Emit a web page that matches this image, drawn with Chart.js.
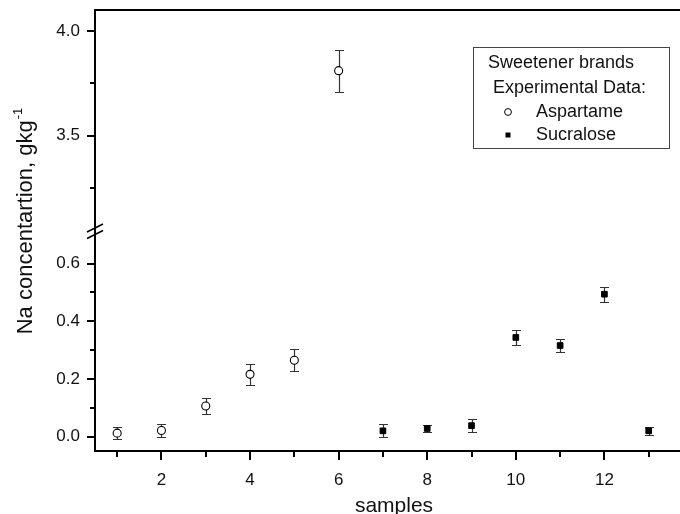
<!DOCTYPE html>
<html>
<head>
<meta charset="utf-8">
<script src="https://cdn.jsdelivr.net/npm/chart.js@4.4.1/dist/chart.umd.min.js"></script>
<style>
  html, body { margin: 0; padding: 0; background: #fff; overflow: hidden; }
  #wrap { width: 700px; height: 514px; }
</style>
</head>
<body>
<div id="wrap"><canvas id="naChart"></canvas></div>
<script>
// samples 1-6 aspartame, 7-13 sucralose
const aspartameSamples = [1, 2, 3, 4, 5, 6];
const aspartame = [0.012, 0.021, 0.106, 0.216, 0.265, 3.81];
const aspartameErr = [0.020, 0.022, 0.028, 0.036, 0.038, 0.10];

const sucraloseSamples = [7, 8, 9, 10, 11, 12, 13];
const sucralose = [0.020, 0.028, 0.038, 0.344, 0.316, 0.494, 0.020];
const sucraloseErr = [0.022, 0.012, 0.023, 0.026, 0.024, 0.026, 0.015];

const breakValue = 1.5; // values above this go on the upper axis part
const xTicks = [2, 4, 6, 8, 10, 12];
const xMinor = [1, 3, 5, 7, 9, 11, 13];
const lowTicks = [0.0, 0.2, 0.4, 0.6];
const lowMinor = [0.1, 0.3, 0.5];
const highTicks = [3.5, 4.0];
const highMinor = [3.25, 3.75];

const FONT = "'Liberation Sans', Arial, Helvetica, sans-serif";
Chart.defaults.font.family = FONT;
Chart.defaults.color = '#111';

function points(xs, ys, errs, upper) {
  const out = [];
  xs.forEach((x, i) => {
    if ((ys[i] > breakValue) === upper) out.push({ x, y: ys[i], err: errs[i] });
  });
  return out;
}

const circleStyle = { pointStyle: 'circle', pointRadius: 4, pointBackgroundColor: '#fff', pointBorderColor: '#000', pointBorderWidth: 1.1 };
const squareStyle = { pointStyle: 'rect', pointRadius: 4, pointBackgroundColor: '#000', pointBorderColor: '#000', pointBorderWidth: 1 };

const datasets = [
  { label: 'Aspartame', yAxisID: 'y', data: points(aspartameSamples, aspartame, aspartameErr, false), ...circleStyle },
  { label: 'Aspartame', yAxisID: 'y2', data: points(aspartameSamples, aspartame, aspartameErr, true), ...circleStyle },
  { label: 'Sucralose', yAxisID: 'y', data: points(sucraloseSamples, sucralose, sucraloseErr, false), ...squareStyle },
  { label: 'Sucralose', yAxisID: 'y2', data: points(sucraloseSamples, sucralose, sucraloseErr, true), ...squareStyle }
];

const errorBars = {
  id: 'errorBars',
  beforeDatasetsDraw(chart) {
    const ctx = chart.ctx;
    ctx.save();
    ctx.strokeStyle = '#333';
    ctx.lineWidth = 1.2;
    chart.data.datasets.forEach((ds, i) => {
      const meta = chart.getDatasetMeta(i);
      const ys = chart.scales[ds.yAxisID];
      meta.data.forEach((pt, j) => {
        const d = ds.data[j];
        const x = Math.round(pt.x) + 0.5;
        const top = Math.round(ys.getPixelForValue(d.y + d.err)) + 0.5;
        const bot = Math.round(ys.getPixelForValue(d.y - d.err)) + 0.5;
        ctx.beginPath();
        ctx.moveTo(x, top); ctx.lineTo(x, bot);
        ctx.moveTo(x - 4.5, top); ctx.lineTo(x + 4.5, top);
        ctx.moveTo(x - 4.5, bot); ctx.lineTo(x + 4.5, bot);
        ctx.stroke();
      });
    });
    ctx.restore();
  }
};

const decorations = {
  id: 'decorations',
  afterDraw(chart) {
    const ctx = chart.ctx;
    const area = chart.chartArea;
    const sx = chart.scales.x, sy = chart.scales.y, sy2 = chart.scales.y2;
    ctx.save();
    ctx.strokeStyle = '#000';
    ctx.lineWidth = 2;
    // top frame line
    ctx.beginPath();
    ctx.moveTo(area.left, area.top); ctx.lineTo(area.right + 20, area.top);
    ctx.stroke();
    // tick marks
    const yTick = (scale, v, len) => {
      const py = Math.round(scale.getPixelForValue(v));
      ctx.beginPath(); ctx.moveTo(area.left - len, py); ctx.lineTo(area.left, py); ctx.stroke();
    };
    lowTicks.forEach(v => yTick(sy, v, 8));
    lowMinor.forEach(v => yTick(sy, v, 5));
    highTicks.forEach(v => yTick(sy2, v, 8));
    highMinor.forEach(v => yTick(sy2, v, 5));
    const xTick = (v, len) => {
      const px = Math.round(sx.getPixelForValue(v));
      ctx.beginPath(); ctx.moveTo(px, area.bottom); ctx.lineTo(px, area.bottom + len); ctx.stroke();
    };
    xTicks.forEach(v => xTick(v, 9));
    xMinor.forEach(v => xTick(v, 6));

    // axis break marks
    const by = sy.top;
    ctx.lineWidth = 1.6;
    ctx.beginPath();
    ctx.moveTo(area.left - 8, by + 1.5); ctx.lineTo(area.left + 8, by - 6.5);
    ctx.moveTo(area.left - 8, by + 8); ctx.lineTo(area.left + 8, by);
    ctx.stroke();

    // axis titles
    ctx.fillStyle = '#111';
    ctx.font = '21px ' + FONT;
    ctx.textAlign = 'center';
    ctx.textBaseline = 'alphabetic';
    ctx.fillText('samples', (area.left + area.right) / 2, 512);

    const main = 'Na concentartion, gkg';
    const sup = '-1';
    ctx.font = '22px ' + FONT;
    const wMain = ctx.measureText(main).width;
    ctx.font = '13px ' + FONT;
    const wSup = ctx.measureText(sup).width;
    const cy = (area.top + area.bottom) / 2 - 9;
    ctx.translate(32, cy + (wMain + wSup) / 2);
    ctx.rotate(-Math.PI / 2);
    ctx.textAlign = 'left';
    ctx.font = '22px ' + FONT;
    ctx.fillText(main, 0, 0);
    ctx.font = '13px ' + FONT;
    ctx.fillText(sup, wMain + 1, -10);
    ctx.setTransform(1, 0, 0, 1, 0, 0);

    // legend box
    const bx = area.right - 220, bt = area.top + 37;
    ctx.strokeStyle = '#444';
    ctx.lineWidth = 1;
    ctx.strokeRect(bx + 0.5, bt + 0.5, 196, 101);
    ctx.font = '18px ' + FONT;
    ctx.textBaseline = 'middle';
    ctx.fillStyle = '#111';
    ctx.fillText('Sweetener brands', bx + 15, bt + 16);
    ctx.fillText('Experimental Data:', bx + 20, bt + 41);
    ctx.fillText('Aspartame', bx + 63, bt + 65);
    ctx.fillText('Sucralose', bx + 63, bt + 88);
    ctx.beginPath();
    ctx.arc(bx + 35, bt + 65, 3.4, 0, Math.PI * 2);
    ctx.strokeStyle = '#000';
    ctx.stroke();
    ctx.fillStyle = '#000';
    ctx.fillRect(bx + 32.5, bt + 85.5, 5, 5);
    ctx.restore();
  }
};

const tickFont = { size: 17 };
const yAxisBase = {
  type: 'linear',
  position: 'left',
  stack: 'na',
  stackWeight: 1,
  offset: false,
  grid: { display: false },
  border: { color: '#000', width: 2 },
  ticks: { font: tickFont, color: '#111', padding: 7, callback: v => Number(v).toFixed(1) },
  afterFit: s => { s.width = 95; s.paddingTop = 0; s.paddingBottom = 0; }
};

new Chart(document.getElementById('naChart').getContext('2d'), {
  type: 'scatter',
  data: { datasets },
  options: {
    responsive: true,
    maintainAspectRatio: false,
    animation: false,
    layout: { padding: { top: 10, right: 7, left: 0, bottom: 0 } },
    scales: {
      x: {
        type: 'linear',
        position: 'bottom',
        min: 0.5,
        max: 14,
        grid: { display: false },
        border: { color: '#000', width: 2 },
        ticks: { font: tickFont, color: '#111', padding: 11 },
        afterBuildTicks: s => { s.ticks = xTicks.map(v => ({ value: v })); },
        afterFit: s => { s.height = 63; s.paddingLeft = 0; s.paddingRight = 0; }
      },
      y: {
        ...yAxisBase,
        min: -0.05,
        max: 0.715,
        afterBuildTicks: s => { s.ticks = lowTicks.map(v => ({ value: v })); }
      },
      y2: {
        ...yAxisBase,
        min: 3.046,
        max: 4.1,
        afterBuildTicks: s => { s.ticks = highTicks.map(v => ({ value: v })); }
      }
    },
    plugins: {
      legend: { display: false },
      tooltip: { enabled: false }
    }
  },
  plugins: [errorBars, decorations]
});
</script>
</body>
</html>
